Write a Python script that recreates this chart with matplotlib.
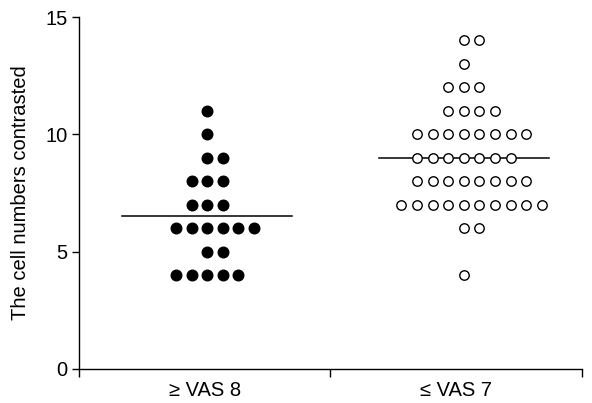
import numpy as np
import matplotlib
matplotlib.use('Agg')
import matplotlib.pyplot as plt

plt.rcParams['font.family'] = ['Liberation Sans', 'DejaVu Sans']

# Group labels and the counted dots (value -> how many cells at that value)
groups = ['\u2265 VAS 8', '\u2264 VAS 7']
values_1 = [11, 10, 9, 8, 7, 6, 5, 4]
counts_1 = [1, 1, 2, 3, 3, 6, 2, 5]
values_2 = [14, 13, 12, 11, 10, 9, 8, 7, 6, 4]
counts_2 = [2, 1, 3, 4, 8, 7, 8, 10, 2, 1]

yticks = [0, 5, 10, 15]
ylabel = 'The cell numbers contrasted'


def dot_positions(values, counts, centre, step=0.062):
    # lay the dots out in rows, one row per value
    xs, ys = [], []
    for v, n in zip(values, counts):
        for i in range(n):
            xs.append(centre + (i - (n - 1) // 2) * step)
            ys.append(v)
    return np.array(xs), np.array(ys)


fig = plt.figure(figsize=(5.92, 4.03), dpi=100)
ax = fig.add_axes([0.1334, 0.0844, 0.8496, 0.8734])

centres = [0.51, 1.53]
x1, y1 = dot_positions(values_1, counts_1, centres[0])
x2, y2 = dot_positions(values_2, counts_2, centres[1])

ax.plot(x1, y1, 'o', color='black', markersize=7.6, linestyle='none', clip_on=False)
ax.plot(x2, y2, 'o', markerfacecolor='white', markeredgecolor='black',
        markeredgewidth=1.0, markersize=6.8, linestyle='none', clip_on=False)

# mean lines
half = 0.338
for c, ys in zip(centres, [y1, y2]):
    ax.plot([c - half, c + half], [ys.mean(), ys.mean()], color='black', lw=1.1, zorder=1)

ax.set_xlim(0, 2)
ax.set_ylim(0, 15)
ax.set_yticks(yticks)
ax.set_xticks([0.5, 1.5])
ax.set_xticklabels(groups, fontsize=14.5)
ax.set_xticks([0, 1, 2], minor=True)
ax.tick_params(axis='x', which='major', length=0, pad=9)
ax.tick_params(axis='x', which='minor', length=6, width=1.0, direction='out')
ax.tick_params(axis='y', length=5, width=1.0, labelsize=14.5, pad=3)
ax.set_ylabel(ylabel, fontsize=14.5, labelpad=11)

for s in ['top', 'right']:
    ax.spines[s].set_visible(False)
for s in ['left', 'bottom']:
    ax.spines[s].set_linewidth(1.0)

fig.savefig('out.png', dpi=100)
